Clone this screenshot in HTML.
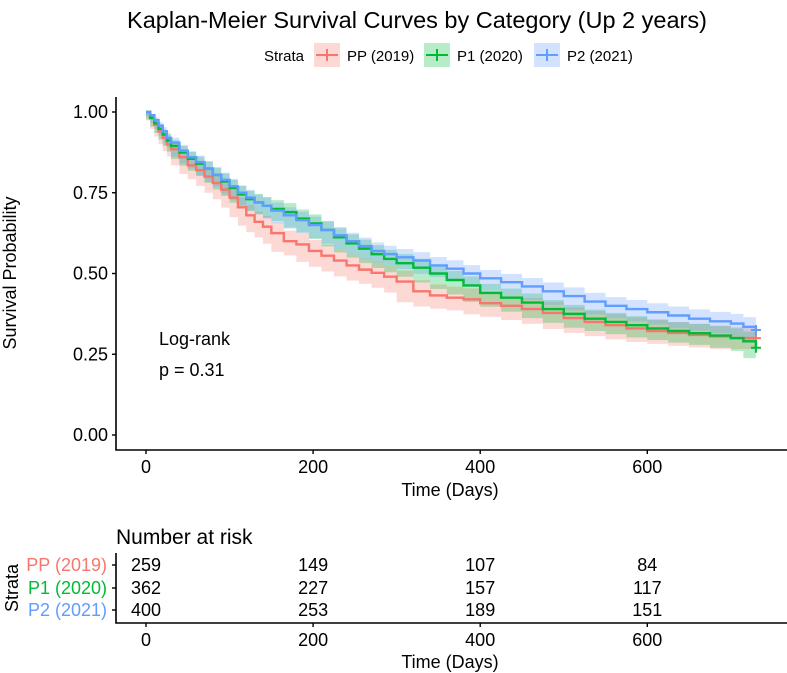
<!DOCTYPE html>
<html><head><meta charset="utf-8"><style>
body{margin:0;background:#fff}
svg{display:block;font-family:"Liberation Sans",Arial,sans-serif}
</style></head><body>
<svg id="chart" width="787" height="673" viewBox="0 0 787 673" xmlns="http://www.w3.org/2000/svg">
<text x="417" y="28" font-size="23.5" text-anchor="middle" fill="#000">Kaplan-Meier Survival Curves by Category (Up 2 years)</text>
<g id="legend"></g>
<g id="bands"></g>
<g id="lines"></g>
<g id="axes"></g>
<text x="159" y="345" font-size="18">Log-rank</text>
<text x="159" y="376" font-size="18">p = 0.31</text>
<text transform="translate(16,273) rotate(-90)" font-size="18" text-anchor="middle">Survival Probability</text>
<text x="450" y="496" font-size="18" text-anchor="middle">Time (Days)</text>
<text x="116" y="544" font-size="21">Number at risk</text>
<g id="risk"></g>
<text x="450" y="668" font-size="18" text-anchor="middle">Time (Days)</text>
<text transform="translate(18,588) rotate(-90)" font-size="18" text-anchor="middle">Strata</text>
</svg>
<script>
const seriesNames = ["PP (2019)", "P1 (2020)", "P2 (2021)"];
const timePoints = [0,5,10,15,20,25,30,40,50,60,70,80,90,100,110,120,130,140,150,165,180,195,210,225,240,255,270,285,300,320,340,360,380,400,425,450,475,500,525,550,575,600,625,650,675,700,715,730];
const survPP = [1.0,.98,.96,.94,.92,.90,.885,.86,.835,.82,.80,.78,.76,.735,.705,.68,.66,.645,.625,.60,.59,.57,.555,.54,.525,.512,.502,.49,.475,.445,.432,.425,.42,.408,.40,.39,.378,.362,.35,.34,.33,.322,.316,.31,.305,.30,.30,.30];
const survP1 = [1.0,.982,.965,.948,.93,.912,.895,.875,.855,.84,.825,.805,.785,.765,.745,.73,.72,.71,.70,.69,.67,.655,.635,.612,.593,.577,.56,.545,.532,.518,.50,.48,.463,.44,.425,.41,.39,.375,.36,.35,.34,.33,.322,.315,.308,.30,.29,.27];
const survP2 = [1.0,.99,.975,.958,.94,.92,.905,.88,.86,.845,.825,.805,.79,.77,.75,.735,.72,.71,.695,.68,.665,.65,.635,.618,.60,.585,.57,.56,.55,.54,.525,.515,.50,.485,.473,.46,.445,.43,.413,.40,.39,.38,.37,.36,.352,.345,.335,.325];
const ciHalfPP = [0,.006,.012,.016,.019,.021,.023,.025,.027,.028,.029,.03,.03,.031,.031,.032,.032,.033,.033,.033,.034,.034,.034,.034,.034,.034,.034,.034,.034,.034,.034,.034,.034,.034,.034,.034,.034,.034,.034,.034,.034,.034,.034,.034,.034,.034,.034,.034];
const ciHalfP1 = [0,.005,.01,.013,.015,.017,.018,.02,.021,.022,.023,.024,.025,.025,.026,.026,.027,.027,.027,.028,.028,.028,.028,.028,.028,.028,.028,.028,.028,.028,.028,.028,.028,.028,.028,.028,.028,.028,.028,.028,.028,.028,.028,.029,.029,.03,.03,.032];
const ciHalfP2 = [0,.004,.008,.011,.013,.015,.016,.018,.019,.02,.021,.022,.022,.023,.023,.024,.024,.025,.025,.025,.026,.026,.026,.026,.026,.026,.026,.026,.026,.026,.026,.026,.026,.026,.026,.026,.027,.027,.027,.027,.028,.028,.028,.029,.029,.03,.03,.031];
const xTicks = [0,200,400,600];
const yTicks = [0,0.25,0.5,0.75,1.0];
const yTickLabels = ["0.00","0.25","0.50","0.75","1.00"];
const riskPP = [259,149,107,84];
const riskP1 = [362,227,157,117];
const riskP2 = [400,253,189,151];

const colors = ["#F8766D","#00BA38","#619CFF"];
const NS = "http://www.w3.org/2000/svg";
const X = d => 146 + d * 0.8355;
const Y = s => 435 - s * 323;
function mk(tag, attrs, parent){const e=document.createElementNS(NS,tag);for(const k in attrs)e.setAttribute(k,attrs[k]);parent.appendChild(e);return e;}

const survs=[survPP,survP1,survP2], cis=[ciHalfPP,ciHalfP1,ciHalfP2], risks=[riskPP,riskP1,riskP2];
const bands=document.getElementById('bands'), lines=document.getElementById('lines');
function stepPath(vals){
  let d='M'+X(timePoints[0])+','+Y(vals[0]);
  for(let i=1;i<timePoints.length;i++){d+=' H'+X(timePoints[i])+' V'+Y(vals[i]);}
  return d;
}
survs.forEach((s,k)=>{
  const hi=s.map((v,i)=>Math.min(1,v+cis[k][i])), lo=s.map((v,i)=>v-cis[k][i]);
  let d='M'+X(timePoints[0])+','+Y(hi[0]);
  for(let i=1;i<timePoints.length;i++) d+=' H'+X(timePoints[i])+' V'+Y(hi[i]);
  d+=' V'+Y(lo[lo.length-1]);
  for(let i=timePoints.length-1;i>0;i--) d+=' V'+Y(lo[i])+' H'+X(timePoints[i-1]);
  d+=' Z';
  const b=mk('path',{d:d,fill:colors[k],'fill-opacity':0.28,stroke:'none'},bands);
  
  
});
survs.forEach((s,k)=>{
  const p=mk('path',{d:stepPath(s),fill:'none',stroke:colors[k],'stroke-width':2.4},lines);
  
  
  const ex=X(timePoints[timePoints.length-1]), ey=Y(s[s.length-1]);
  const c=mk('path',{d:`M${ex-5},${ey} H${ex+5} M${ex},${ey-5} V${ey+5}`,stroke:colors[k],'stroke-width':2},lines);
  
  
});
const axes=document.getElementById('axes');
mk('path',{d:'M116,97 V450 H787',fill:'none',stroke:'#000','stroke-width':1.6},axes);
yTicks.forEach((v,i)=>{
  mk('line',{x1:112,x2:116,y1:Y(v),y2:Y(v),stroke:'#000','stroke-width':1.4},axes);
  const t=mk('text',{x:108,y:Y(v)+6,'font-size':18,'text-anchor':'end'},axes);t.textContent=yTickLabels[i];
  
  
});
xTicks.forEach(v=>{
  mk('line',{x1:X(v),x2:X(v),y1:450,y2:454,stroke:'#000','stroke-width':1.4},axes);
  const t=mk('text',{x:X(v),y:473,'font-size':18,'text-anchor':'middle'},axes);t.textContent=v;
  
  
});
const risk=document.getElementById('risk');
mk('path',{d:'M116,553 V623 H787',fill:'none',stroke:'#000','stroke-width':1.6},risk);
const rowY=[565,588,610];
seriesNames.forEach((n,k)=>{
  mk('line',{x1:112,x2:116,y1:rowY[k],y2:rowY[k],stroke:'#000','stroke-width':1.4},risk);
  const t=mk('text',{x:107,y:rowY[k]+6,'font-size':18,'text-anchor':'end',fill:colors[k]},risk);t.textContent=n;
  
  
  risks[k].forEach((v,i)=>{
    const r=mk('text',{x:X(xTicks[i]),y:rowY[k]+6,'font-size':18,'text-anchor':'middle'},risk);r.textContent=v;
    
    
  });
});
xTicks.forEach(v=>{
  mk('line',{x1:X(v),x2:X(v),y1:623,y2:627,stroke:'#000','stroke-width':1.4},risk);
  const t=mk('text',{x:X(v),y:646,'font-size':18,'text-anchor':'middle'},risk);t.textContent=v;
  
  
});
const lg=document.getElementById('legend');
const lt=mk('text',{x:264,y:61,'font-size':15},lg);lt.textContent='Strata';
const keyX=[314,424,534];
seriesNames.forEach((n,k)=>{
  const g=mk('g',{},lg);
  
  
  mk('rect',{x:keyX[k],y:43,width:26,height:24,fill:colors[k],'fill-opacity':0.28},g);
  mk('path',{d:`M${keyX[k]+2},55 H${keyX[k]+24} M${keyX[k]+13},49 V61`,stroke:colors[k],'stroke-width':2},g);
  const t=mk('text',{x:keyX[k]+33,y:61,'font-size':15},g);t.textContent=n;
});
</script>
</body></html>
